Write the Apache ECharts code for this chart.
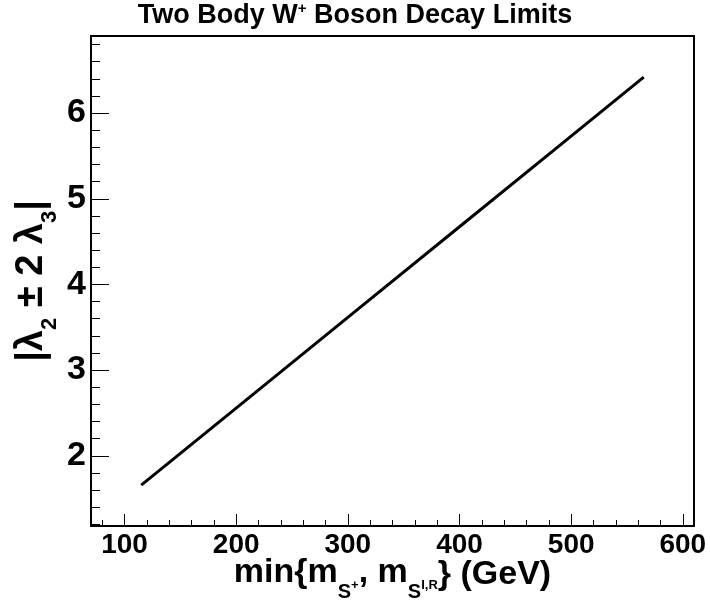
<!DOCTYPE html>
<html>
<head>
<meta charset="utf-8">
<title>Two Body W+ Boson Decay Limits</title>
<script src="https://cdn.jsdelivr.net/npm/echarts@6/dist/echarts.min.js"></script>
<style>
  html, body { margin: 0; padding: 0; background: #fff; }
  #chart { width: 710px; height: 605px; }
</style>
</head>
<body>
<div id="chart"></div>
<script>
// limit curve
var massValues = [115, 200, 300, 400, 500, 565];
var lambdaValues = [1.657, 2.556, 3.615, 4.673, 5.732, 6.42];

// axis ticks
var xMajorTicks = [100, 200, 300, 400, 500, 600];
var xMinorTicks = [80, 120, 140, 160, 180, 220, 240, 260, 280, 320, 340, 360, 380,
  420, 440, 460, 480, 520, 540, 560, 580];
var yMajorTicks = [2, 3, 4, 5, 6];
var yMinorTicks = [1.2, 1.4, 1.6, 1.8, 2.2, 2.4, 2.6, 2.8, 3.2, 3.4, 3.6, 3.8,
  4.2, 4.4, 4.6, 4.8, 5.2, 5.4, 5.6, 5.8, 6.2, 6.4, 6.6, 6.8];

var xMin = 70, xMax = 610, yMin = 1.18, yMax = 6.9;

var myChart = echarts.init(document.getElementById('chart'));
var font = 'Liberation Sans, Arial, sans-serif';

var linePoints = massValues.map(function (m, i) { return [m, lambdaValues[i]]; });

var option = {
  animation: false,
  backgroundColor: '#fff',
  textStyle: { fontFamily: font },
  title: {
    text: '{b|Two Body W}{s|+}{b| Boson Decay Limits}',
    left: 'center',
    top: -4,
    textStyle: {
      rich: {
        b: { fontFamily: font, fontWeight: 'bold', fontSize: 27, color: '#000', lineHeight: 30 },
        s: { fontFamily: font, fontWeight: 'bold', fontSize: 15, color: '#000', verticalAlign: 'top', lineHeight: 30, padding: [0, 0, 12, 0] }
      }
    }
  },
  grid: {
    left: 91, right: 16, top: 36, bottom: 79,
    outerBoundsMode: 'none',
    show: true,
    borderColor: '#000',
    borderWidth: 2
  },
  xAxis: [{
    type: 'value',
    min: xMin, max: xMax,
    name: '{m|min{m}{sb|S}{sp|+}{m|, m}{sb|S}{sp|I,R}} (GeV)',
    nameLocation: 'middle',
    nameMoveOverlap: false,
    nameGap: 30,
    nameTextStyle: {
      fontFamily: font, fontWeight: 'bold', fontSize: 34, color: '#000', lineHeight: 38, verticalAlign: 'top',
      rich: {
        m: { fontFamily: font, fontWeight: 'bold', fontSize: 34, color: '#000', lineHeight: 38, verticalAlign: 'top' },
        sb: { fontFamily: font, fontWeight: 'bold', fontSize: 20, color: '#000', lineHeight: 20, padding: [26, 0, 0, 0], verticalAlign: 'top' },
        sp: { fontFamily: font, fontWeight: 'bold', fontSize: 13, color: '#000', lineHeight: 13, padding: [23, 0, 0, 0], verticalAlign: 'top' }
      }
    },
    axisLine: { lineStyle: { color: '#000', width: 2 } },
    axisTick: { inside: true, length: 12, customValues: xMajorTicks, lineStyle: { color: '#000', width: 1 } },
    axisLabel: {
      customValues: xMajorTicks,
      margin: 5,
      fontFamily: font, fontWeight: 'bold', fontSize: 28, color: '#000'
    },
    splitLine: { show: false }
  }, {
    type: 'value',
    position: 'bottom',
    min: xMin, max: xMax,
    axisLine: { show: false },
    axisTick: { inside: true, length: 6, customValues: xMinorTicks, lineStyle: { color: '#000', width: 1 } },
    axisLabel: { show: false },
    splitLine: { show: false }
  }],
  yAxis: [{
    type: 'value',
    min: yMin, max: yMax,
    name: '{m|\u007C\u03bb}{sb|2}{m| \u00b1 2 \u03bb}{sb|3}{m|\u007C}',
    nameLocation: 'middle',
    nameRotate: 90,
    nameMoveOverlap: false,
    nameGap: 38,
    nameTextStyle: {
      rich: {
        m: { fontFamily: font, fontWeight: 'bold', fontSize: 38, color: '#000', lineHeight: 40, verticalAlign: 'top' },
        sb: { fontFamily: font, fontWeight: 'bold', fontSize: 22, color: '#000', lineHeight: 22, padding: [26, 0, 0, 0], verticalAlign: 'top' }
      }
    },
    axisLine: { lineStyle: { color: '#000', width: 2 } },
    axisTick: { inside: true, length: 18, customValues: yMajorTicks, lineStyle: { color: '#000', width: 1 } },
    axisLabel: {
      customValues: yMajorTicks,
      margin: 5,
      fontFamily: font, fontWeight: 'bold', fontSize: 34, color: '#000'
    },
    splitLine: { show: false }
  }, {
    type: 'value',
    position: 'left',
    min: yMin, max: yMax,
    axisLine: { show: false },
    axisTick: { inside: true, length: 9, customValues: yMinorTicks, lineStyle: { color: '#000', width: 1 } },
    axisLabel: { show: false },
    splitLine: { show: false }
  }],
  series: [{
    type: 'line',
    data: linePoints,
    showSymbol: false,
    symbol: 'none',
    lineStyle: { color: '#000', width: 3 }
  }]
};

myChart.setOption(option);
</script>
</body>
</html>
